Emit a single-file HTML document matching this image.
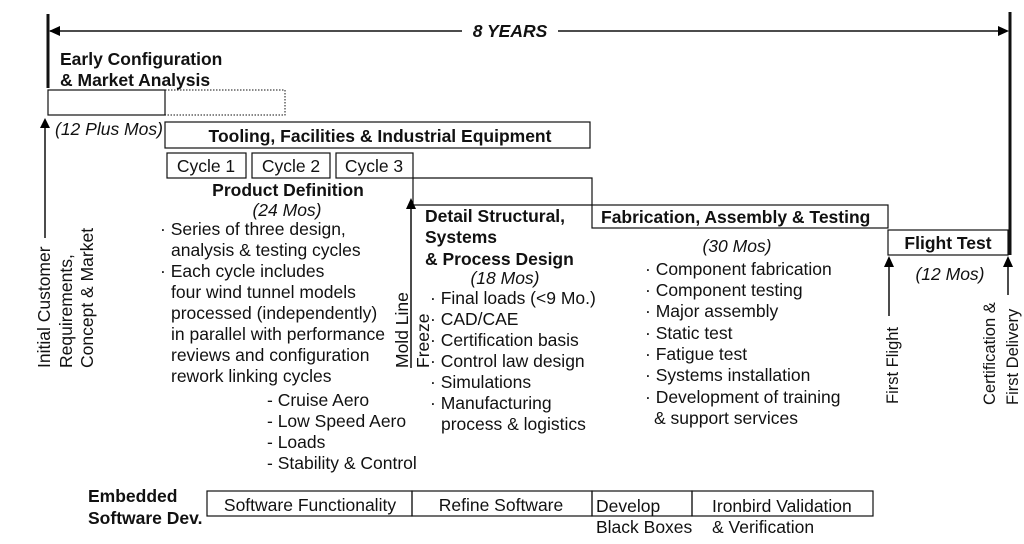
<!DOCTYPE html>
<html><head><meta charset="utf-8"><style>
html,body{margin:0;padding:0;background:#fff;}
svg{display:block;font-family:"Liberation Sans",Arial,sans-serif;}
.b{font-weight:bold;}
.i{font-style:italic;}
text{font-size:17.5px;fill:#111;}
.v{font-size:17.5px;}
</style></head><body>
<svg width="1024" height="544" viewBox="0 0 1024 544" xmlns="http://www.w3.org/2000/svg">
<g stroke="#111" fill="none">
<line x1="48" y1="14" x2="48" y2="88" stroke-width="3"/>
<line x1="1010" y1="12" x2="1010" y2="255" stroke-width="3"/>
<line x1="50" y1="31" x2="462" y2="31" stroke-width="1.5"/>
<line x1="558" y1="31" x2="1000" y2="31" stroke-width="1.5"/>
<rect x="48" y="90" width="117" height="25" stroke-width="1.2"/>
<rect x="165" y="90" width="120" height="25" stroke-width="1" stroke-dasharray="1.5,1.5"/>
<line x1="45" y1="124" x2="45" y2="238" stroke-width="1.5"/>
<rect x="165" y="122" width="425" height="26" stroke-width="1.2"/>
<rect x="167" y="153" width="79" height="25" stroke-width="1.2"/>
<rect x="252" y="153" width="78" height="25" stroke-width="1.2"/>
<rect x="336" y="153" width="77" height="25" stroke-width="1.2"/>
<polyline points="413,178 592,178 592,205" stroke-width="1.2"/>
<line x1="413" y1="178" x2="413" y2="205" stroke-width="1.2"/>
<line x1="411" y1="205" x2="592" y2="205" stroke-width="1.2"/>
<line x1="411" y1="206" x2="411" y2="368" stroke-width="1.5"/>
<rect x="592" y="205" width="296" height="23" stroke-width="1.2"/>
<rect x="888" y="230" width="120" height="25" stroke-width="1.2"/>
<line x1="889" y1="264" x2="889" y2="316" stroke-width="1.5"/>
<line x1="1008" y1="264" x2="1008" y2="295" stroke-width="1.5"/>
<rect x="207" y="491" width="205" height="25" stroke-width="1.2"/>
<rect x="412" y="491" width="180" height="25" stroke-width="1.2"/>
<rect x="592" y="491" width="100" height="25" stroke-width="1.2"/>
<rect x="692" y="491" width="181" height="25" stroke-width="1.2"/>
</g>
<g fill="#000">
<polygon points="49,31 60,26 60,36"/>
<polygon points="1009,31 998,26 998,36"/>
<polygon points="45,118 40,128 50,128"/>
<polygon points="411,198 406,209 416,209"/>
<polygon points="889,256 884,267 894,267"/>
<polygon points="1008,256 1003,267 1013,267"/>
</g>
<text x="510" y="37" text-anchor="middle" class="b i">8 YEARS</text>
<text x="60" y="65" class="b">Early Configuration</text>
<text x="60" y="86" class="b">&amp; Market Analysis</text>
<text x="55" y="135" class="i">(12 Plus Mos)</text>
<text x="380" y="142" text-anchor="middle" class="b">Tooling, Facilities &amp; Industrial Equipment</text>
<text x="206" y="172" text-anchor="middle">Cycle 1</text>
<text x="291" y="172" text-anchor="middle">Cycle 2</text>
<text x="374" y="172" text-anchor="middle">Cycle 3</text>
<text x="288" y="196" text-anchor="middle" class="b">Product Definition</text>
<text x="287" y="216" text-anchor="middle" class="i">(24 Mos)</text>
<text x="160" y="235">· Series of three design,</text>
<text x="171" y="256">analysis &amp; testing cycles</text>
<text x="160" y="277">· Each cycle includes</text>
<text x="171" y="298">four wind tunnel models</text>
<text x="171" y="319">processed (independently)</text>
<text x="171" y="340">in parallel with performance</text>
<text x="171" y="361">reviews and configuration</text>
<text x="171" y="382">rework linking cycles</text>
<text x="267" y="406">- Cruise Aero</text>
<text x="267" y="427">- Low Speed Aero</text>
<text x="267" y="448">- Loads</text>
<text x="267" y="469">- Stability &amp; Control</text>
<text class="v" transform="translate(50,368) rotate(-90)">Initial Customer</text>
<text class="v" transform="translate(72,368) rotate(-90)">Requirements,</text>
<text class="v" transform="translate(93,368) rotate(-90)">Concept &amp; Market</text>
<text class="v" transform="translate(408,368) rotate(-90)">Mold Line</text>
<text class="v" transform="translate(429,368) rotate(-90)">Freeze</text>
<text x="425" y="222" class="b">Detail Structural,</text>
<text x="425" y="243" class="b">Systems</text>
<text x="425" y="265" class="b">&amp; Process Design</text>
<text x="505" y="284" text-anchor="middle" class="i">(18 Mos)</text>
<text x="430" y="304">· Final loads (&lt;9 Mo.)</text>
<text x="430" y="325">· CAD/CAE</text>
<text x="430" y="346">· Certification basis</text>
<text x="430" y="367">· Control law design</text>
<text x="430" y="388">· Simulations</text>
<text x="430" y="409">· Manufacturing</text>
<text x="441" y="430">process &amp; logistics</text>
<text x="601" y="223" class="b">Fabrication, Assembly &amp; Testing</text>
<text x="737" y="252" text-anchor="middle" class="i">(30 Mos)</text>
<text x="645" y="275">· Component fabrication</text>
<text x="645" y="296">· Component testing</text>
<text x="645" y="317">· Major assembly</text>
<text x="645" y="339">· Static test</text>
<text x="645" y="360">· Fatigue test</text>
<text x="645" y="381">· Systems installation</text>
<text x="645" y="403">· Development of training</text>
<text x="654" y="424">&amp; support services</text>
<text x="948" y="249" text-anchor="middle" class="b">Flight Test</text>
<text x="950" y="280" text-anchor="middle" class="i">(12 Mos)</text>
<text class="v" style="font-size:16.5px" transform="translate(898,404) rotate(-90)">First Flight</text>
<text class="v" style="font-size:16.5px" transform="translate(995,405) rotate(-90)">Certification &amp;</text>
<text class="v" style="font-size:16.5px" transform="translate(1018,405) rotate(-90)">First Delivery</text>
<text x="88" y="502" class="b">Embedded</text>
<text x="88" y="524" class="b">Software Dev.</text>
<text x="310" y="511" text-anchor="middle">Software Functionality</text>
<text x="501" y="511" text-anchor="middle">Refine Software</text>
<text x="596" y="512">Develop</text>
<text x="596" y="533">Black Boxes</text>
<text x="712" y="512">Ironbird Validation</text>
<text x="712" y="533">&amp; Verification</text>
</svg>
</body></html>
